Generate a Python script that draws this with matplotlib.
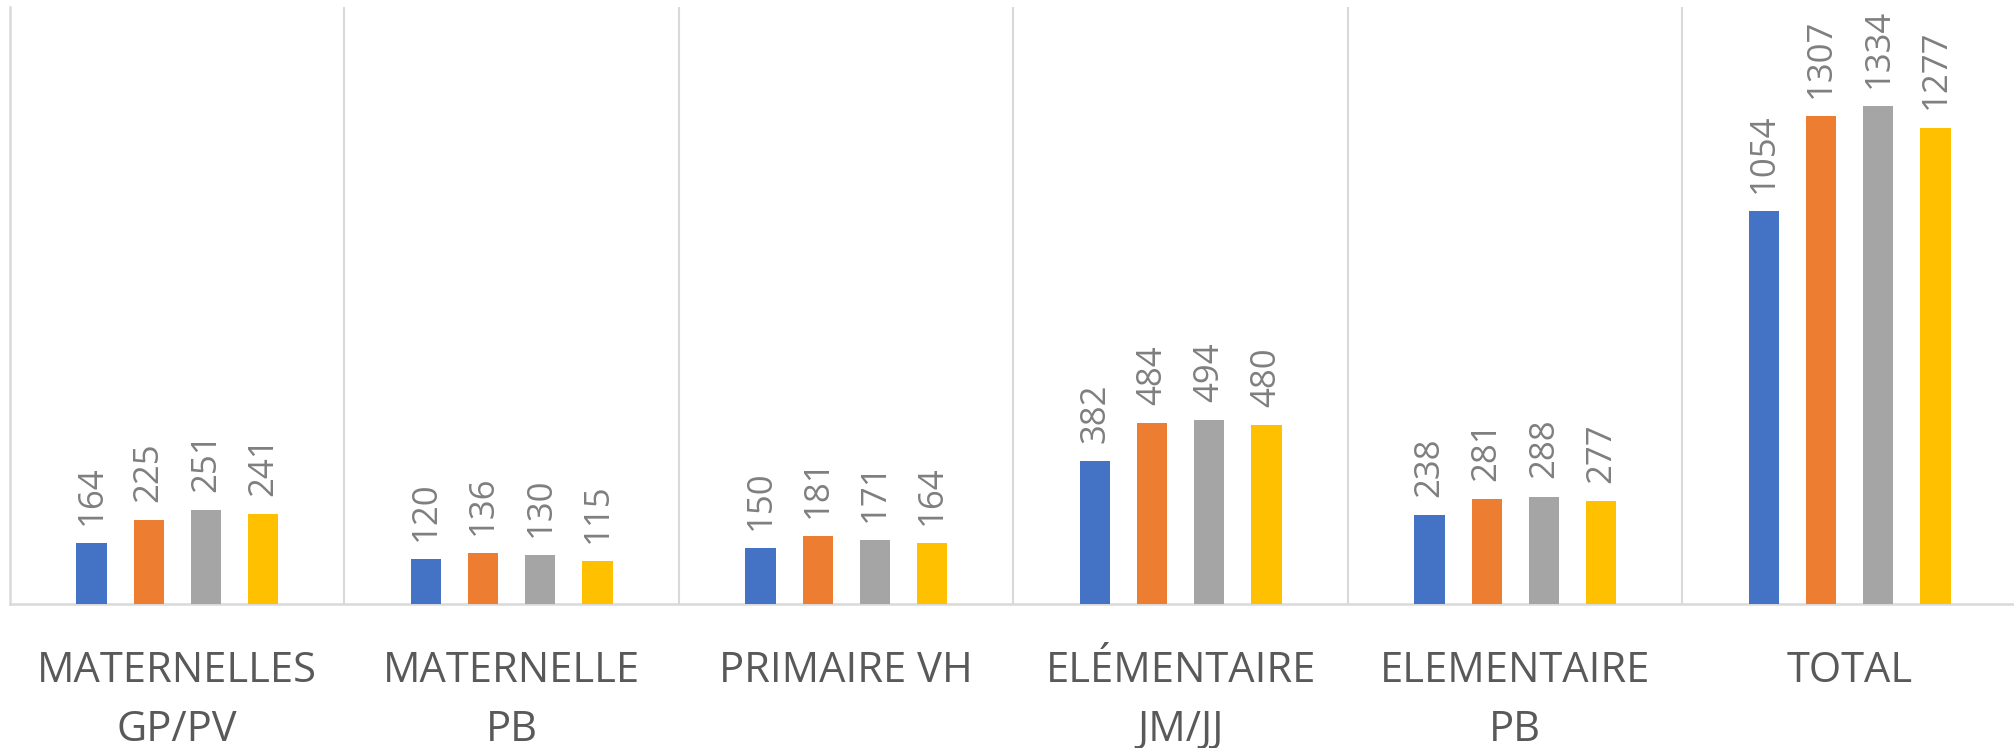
import matplotlib
matplotlib.use("Agg")
import matplotlib.pyplot as plt
import numpy as np

# Effectifs par établissement, quatre séries
categories = ["MATERNELLES\nGP/PV", "MATERNELLE\nPB", "PRIMAIRE VH",
              "ELÉMENTAIRE\nJM/JJ", "ELEMENTAIRE\nPB", "TOTAL"]
serie_1 = [164, 120, 150, 382, 238, 1054]
serie_2 = [225, 136, 181, 484, 281, 1307]
serie_3 = [251, 130, 171, 494, 288, 1334]
serie_4 = [241, 115, 164, 480, 277, 1277]
series = [serie_1, serie_2, serie_3, serie_4]
colors = ["#4472C4", "#ED7D31", "#A5A5A5", "#FFC000"]

plt.rcParams["font.family"] = ["Open Sans", "DejaVu Sans"]

W, H = 2015, 748
fig = plt.figure(figsize=(W / 100, H / 100), dpi=100)
left_px, base_px, top_px = 10, 604, 7
cat_px = 334.5
ax = fig.add_axes([left_px / W, (H - base_px) / H,
                   len(categories) * cat_px / W, (base_px - top_px) / H])

x = np.arange(len(categories))
bar_w = 0.09
step = 0.171
offsets = (np.arange(len(series)) - (len(series) - 1) / 2) * step

for vals, off, col in zip(series, offsets, colors):
    bars = ax.bar(x + off, vals, width=bar_w, color=col, zorder=3)
    for b, v in zip(bars, vals):
        ax.annotate(str(v), (b.get_x() + b.get_width() / 2, v),
                    xytext=(0, 13), textcoords="offset points",
                    rotation=90, ha="center", va="bottom",
                    fontsize=25, color="#7F7F7F")

ax.set_xlim(-0.5, len(categories) - 0.5)
ax.set_ylim(0, 1600)

# vertical separators between categories
for s in np.arange(0.5, len(categories) - 0.5, 1.0):
    ax.axvline(s, color="#D9D9D9", lw=1.5, zorder=1)

for side in ["top", "right"]:
    ax.spines[side].set_visible(False)
for side in ["left", "bottom"]:
    ax.spines[side].set_color("#D9D9D9")
    ax.spines[side].set_linewidth(1.8)

ax.set_yticks([])
ax.set_xticks(x)
ax.set_xticklabels(categories, fontsize=30, color="#595959", linespacing=1.55)
ax.tick_params(axis="x", length=0, pad=33)

fig.savefig("out.png", dpi=100, facecolor="white")
